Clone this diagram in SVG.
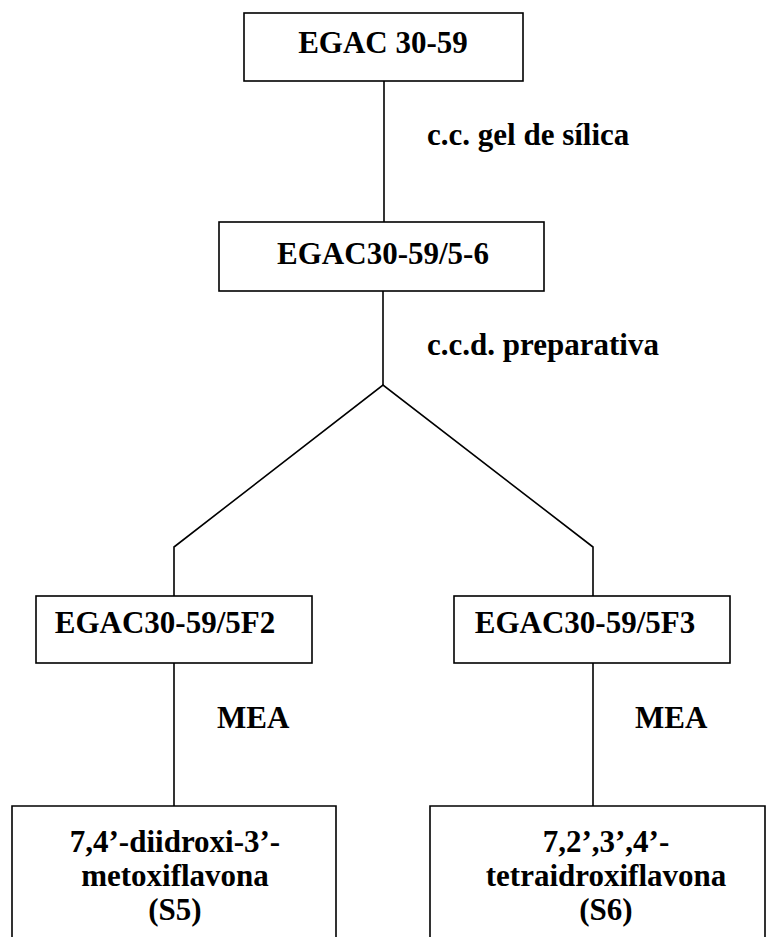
<svg xmlns="http://www.w3.org/2000/svg" width="767" height="937" viewBox="0 0 767 937">
<style>
.box{fill:#fff;stroke:#000;stroke-width:1.6}
.ln{fill:none;stroke:#000;stroke-width:1.6}
.c{text-anchor:middle}
</style>
<rect width="767" height="937" fill="#fff"/>
<g font-family="'Liberation Serif', 'Times New Roman', serif" font-weight="bold" font-size="31" fill="#000">
<g id="connectors">
<line class="ln" x1="384" y1="81" x2="384" y2="222"/>
<line class="ln" x1="383" y1="291" x2="383" y2="385"/>
<polyline class="ln" points="174,596 174,547 383,385 593,547 593,596"/>
<line class="ln" x1="174" y1="663" x2="174" y2="806"/>
<line class="ln" x1="593" y1="663" x2="593" y2="806"/>
<text x="427" y="145">c.c. gel de sílica</text>
<text x="427" y="355">c.c.d. preparativa</text>
<text x="217" y="728">MEA</text>
<text x="635" y="728">MEA</text>
</g>
<g id="n1">
<rect class="box" x="244" y="13" width="279" height="68"/>
<text class="c" x="383" y="53">EGAC 30-59</text>
</g>
<g id="n2">
<rect class="box" x="219" y="222" width="325" height="69"/>
<text class="c" x="383" y="264">EGAC30-59/5-6</text>
</g>
<g id="n3">
<rect class="box" x="36" y="596" width="276" height="67"/>
<text class="c" x="165" y="633">EGAC30-59/5F2</text>
</g>
<g id="n4">
<rect class="box" x="454" y="596" width="276" height="67"/>
<text class="c" x="585" y="633">EGAC30-59/5F3</text>
</g>
<g id="n5">
<path class="box" d="M12,945 V806 H336 V945"/>
<text class="c" x="175" y="852">7,4’-diidroxi-3’-</text>
<text class="c" x="175" y="886">metoxiflavona</text>
<text class="c" x="175" y="920">(S5)</text>
</g>
<g id="n6">
<path class="box" d="M430,945 V806 H765 V945"/>
<text class="c" x="606" y="852">7,2’,3’,4’-</text>
<text class="c" x="606" y="886">tetraidroxiflavona</text>
<text class="c" x="606" y="920">(S6)</text>
</g>
</g>
</svg>
